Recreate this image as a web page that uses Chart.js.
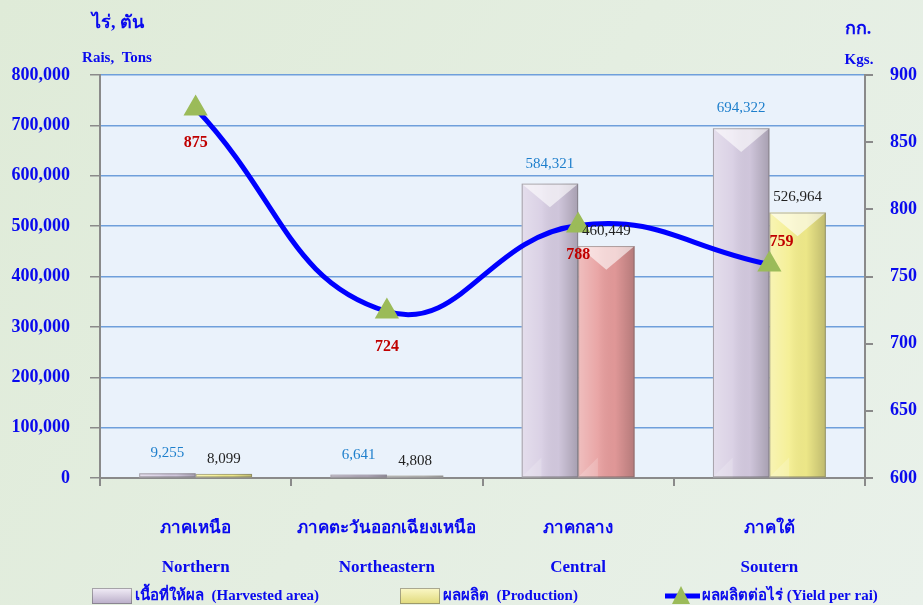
<!DOCTYPE html>
<html>
<head>
<meta charset="utf-8">
<script src="https://cdn.jsdelivr.net/npm/chart.js@4/dist/chart.umd.min.js"></script>
<style>
  body { margin: 0; background: #e3eddf; }
  canvas { display: block; }
</style>
</head>
<body>
<canvas id="yieldChart" width="923" height="605"></canvas>
<script>
// data
const regionsThai = ['ภาคเหนือ', 'ภาคตะวันออกเฉียงเหนือ', 'ภาคกลาง', 'ภาคใต้'];
const regionsEng = ['Northern', 'Northeastern', 'Central', 'Soutern'];
const harvestedArea = [9255, 6641, 584321, 694322];   // rai
const production = [8099, 4808, 460449, 526964];      // tons
const yieldPerRai = [875, 724, 788, 759];             // kg
const leftTickStep = 100000;
const rightTickStep = 50;

const blueText = '#0a0aee';
const serif = 'Liberation Serif, Times New Roman, serif';

const decorPlugin = {
    id: 'decor',
    beforeDraw(chart) {
        const c = chart.ctx, a = chart.chartArea;
        const g = c.createLinearGradient(0, 0, chart.width, chart.height);
        g.addColorStop(0, '#dfebd8');
        g.addColorStop(1, '#e9f1ea');
        c.save();
        c.fillStyle = g;
        c.fillRect(0, 0, chart.width, chart.height);
        c.fillStyle = '#eaf2fb';
        c.fillRect(a.left, a.top, a.right - a.left, a.bottom - a.top);
        c.restore();
    },
    afterDatasetDraw(chart, args) {
        if (args.index > 1) return;
        const c = chart.ctx;
        args.meta.data.forEach(bar => {
            const l = bar.x - bar.width / 2, r = bar.x + bar.width / 2;
            const t = bar.y, b = bar.base, w = bar.width, h = b - t;
            c.save();
            const g = c.createLinearGradient(l, 0, r, 0);
            g.addColorStop(0, 'rgba(255,255,255,0.35)');
            g.addColorStop(0.35, 'rgba(255,255,255,0.1)');
            g.addColorStop(0.65, 'rgba(0,0,0,0.03)');
            g.addColorStop(1, 'rgba(0,0,0,0.22)');
            c.fillStyle = g;
            c.fillRect(l, t, w, h);
            if (h > w * 0.5) {
                // top bevel
                c.fillStyle = 'rgba(255,255,255,0.6)';
                c.beginPath();
                c.moveTo(l, t); c.lineTo(r, t); c.lineTo(bar.x, t + w * 0.42); c.closePath();
                c.fill();
                // bottom bevel
                c.fillStyle = 'rgba(255,255,255,0.18)';
                c.beginPath();
                c.moveTo(l, b); c.lineTo(l + w * 0.35, b - w * 0.35); c.lineTo(l + w * 0.35, b); c.closePath();
                c.fill();
            }
            c.strokeStyle = 'rgba(90,90,90,0.45)';
            c.lineWidth = 1;
            c.strokeRect(l + 0.5, t + 0.5, w - 1, h - 1);
            c.restore();
        });
    },
    afterDraw(chart) {
        const c = chart.ctx;
        c.save();
        c.textAlign = 'center';
        c.textBaseline = 'middle';

        // bar value labels
        c.font = '15px ' + serif;
        chart.getDatasetMeta(0).data.forEach((bar, i) => {
            c.fillStyle = '#1e7fcc';
            c.fillText(harvestedArea[i].toLocaleString('en-US'), bar.x, bar.y - 20);
        });
        chart.getDatasetMeta(1).data.forEach((bar, i) => {
            c.fillStyle = '#222';
            c.fillText(production[i].toLocaleString('en-US'), bar.x, bar.y - 15);
        });

        // yield labels
        const dx = [0, 0, 0, 12], dy = [34, 35, 29, -23];
        c.font = 'bold 16px ' + serif;
        c.fillStyle = '#c00000';
        chart.getDatasetMeta(2).data.forEach((pt, i) => {
            c.fillText(String(yieldPerRai[i]), pt.x + dx[i], pt.y + dy[i]);
        });

        // axis titles
        c.fillStyle = blueText;
        c.font = 'bold 18px ' + serif;
        c.fillText('ไร่, ตัน', 118, 23);
        c.fillText('กก.', 858, 29);
        c.font = 'bold 15px ' + serif;
        c.fillText('Rais,  Tons', 117, 58);
        c.fillText('Kgs.', 859, 60);

        // legend
        const ly = 596;
        const box = (x, c1, c2) => {
            const g = c.createLinearGradient(0, ly - 8, 0, ly + 8);
            g.addColorStop(0, c1);
            g.addColorStop(1, c2);
            c.fillStyle = g;
            c.fillRect(x, ly - 8, 40, 16);
            c.strokeStyle = 'rgba(90,90,90,0.5)';
            c.strokeRect(x + 0.5, ly - 7.5, 39, 15);
        };
        box(92, '#f3eef8', '#b9adc8');
        box(400, '#fbf8c8', '#e0d97a');
        c.strokeStyle = '#0000ff';
        c.lineWidth = 5;
        c.beginPath(); c.moveTo(665, ly); c.lineTo(700, ly); c.stroke();
        c.fillStyle = '#9bbb59';
        c.beginPath(); c.moveTo(681, ly - 10); c.lineTo(690, ly + 8); c.lineTo(672, ly + 8); c.closePath(); c.fill();

        c.textAlign = 'left';
        c.fillStyle = blueText;
        c.font = 'bold 15px ' + serif;
        c.fillText('เนื้อที่ให้ผล  (Harvested area)', 135, ly);
        c.fillText('ผลผลิต  (Production)', 443, ly);
        c.fillText('ผลผลิตต่อไร่ (Yield per rai)', 702, ly);
        c.restore();
    }
};

const ctx = document.getElementById('yieldChart').getContext('2d');
const chart = new Chart(ctx, {
    type: 'bar',
    data: {
        labels: regionsThai.map((t, i) => [t, regionsEng[i]]),
        datasets: [{
            label: 'เนื้อที่ให้ผล (Harvested area)',
            data: harvestedArea,
            backgroundColor: '#d6cce2',
            yAxisID: 'y',
            order: 1,
            categoryPercentage: 0.59,
            barPercentage: 1
        }, {
            label: 'ผลผลิต (Production)',
            data: production,
            backgroundColor: ['#f4ee8c', '#f6f6f2', '#e79c9c', '#f4ee8c'],
            yAxisID: 'y',
            order: 1,
            categoryPercentage: 0.59,
            barPercentage: 1
        }, {
            type: 'line',
            label: 'ผลผลิตต่อไร่ (Yield per rai)',
            data: yieldPerRai,
            yAxisID: 'y1',
            order: 0,
            borderColor: '#0000ff',
            borderWidth: 5,
            tension: 0.45,
            pointStyle: 'triangle',
            pointRadius: 9,
            pointBackgroundColor: '#9bbb59',
            pointBorderColor: '#9bbb59'
        }]
    },
    options: {
        responsive: false,
        animation: false,
        devicePixelRatio: 1,
        layout: { padding: { top: 75, left: 0, right: 0, bottom: 0 } },
        plugins: {
            legend: { display: false },
            tooltip: { enabled: false }
        },
        scales: {
            x: {
                grid: { drawOnChartArea: false, offset: true, tickLength: 8, color: '#8a8a8a', lineWidth: 2 },
                border: { color: '#8a8a8a', width: 2 },
                ticks: {
                    color: blueText,
                    padding: 23,
                    font: { family: serif, size: 17, weight: 'bold', lineHeight: 2.3 }
                },
                afterFit: s => { s.height = 127; }
            },
            y: {
                position: 'left',
                min: 0,
                max: 800000,
                ticks: {
                    stepSize: leftTickStep,
                    color: blueText,
                    padding: 20,
                    font: { family: serif, size: 18, weight: 'bold' },
                    callback: v => v.toLocaleString('en-US')
                },
                grid: { color: '#6f9fdb', lineWidth: 1.5, tickLength: 10, tickColor: '#8a8a8a' },
                border: { color: '#8a8a8a', width: 2 },
                afterFit: s => { s.width = 100; }
            },
            y1: {
                position: 'right',
                min: 600,
                max: 900,
                ticks: {
                    stepSize: rightTickStep,
                    color: blueText,
                    padding: 17,
                    font: { family: serif, size: 18, weight: 'bold' }
                },
                grid: { drawOnChartArea: false, tickLength: 8, color: '#8a8a8a', lineWidth: 2 },
                border: { color: '#8a8a8a', width: 2 },
                afterFit: s => { s.width = 58; }
            }
        }
    },
    plugins: [decorPlugin]
});
</script>
</body>
</html>
